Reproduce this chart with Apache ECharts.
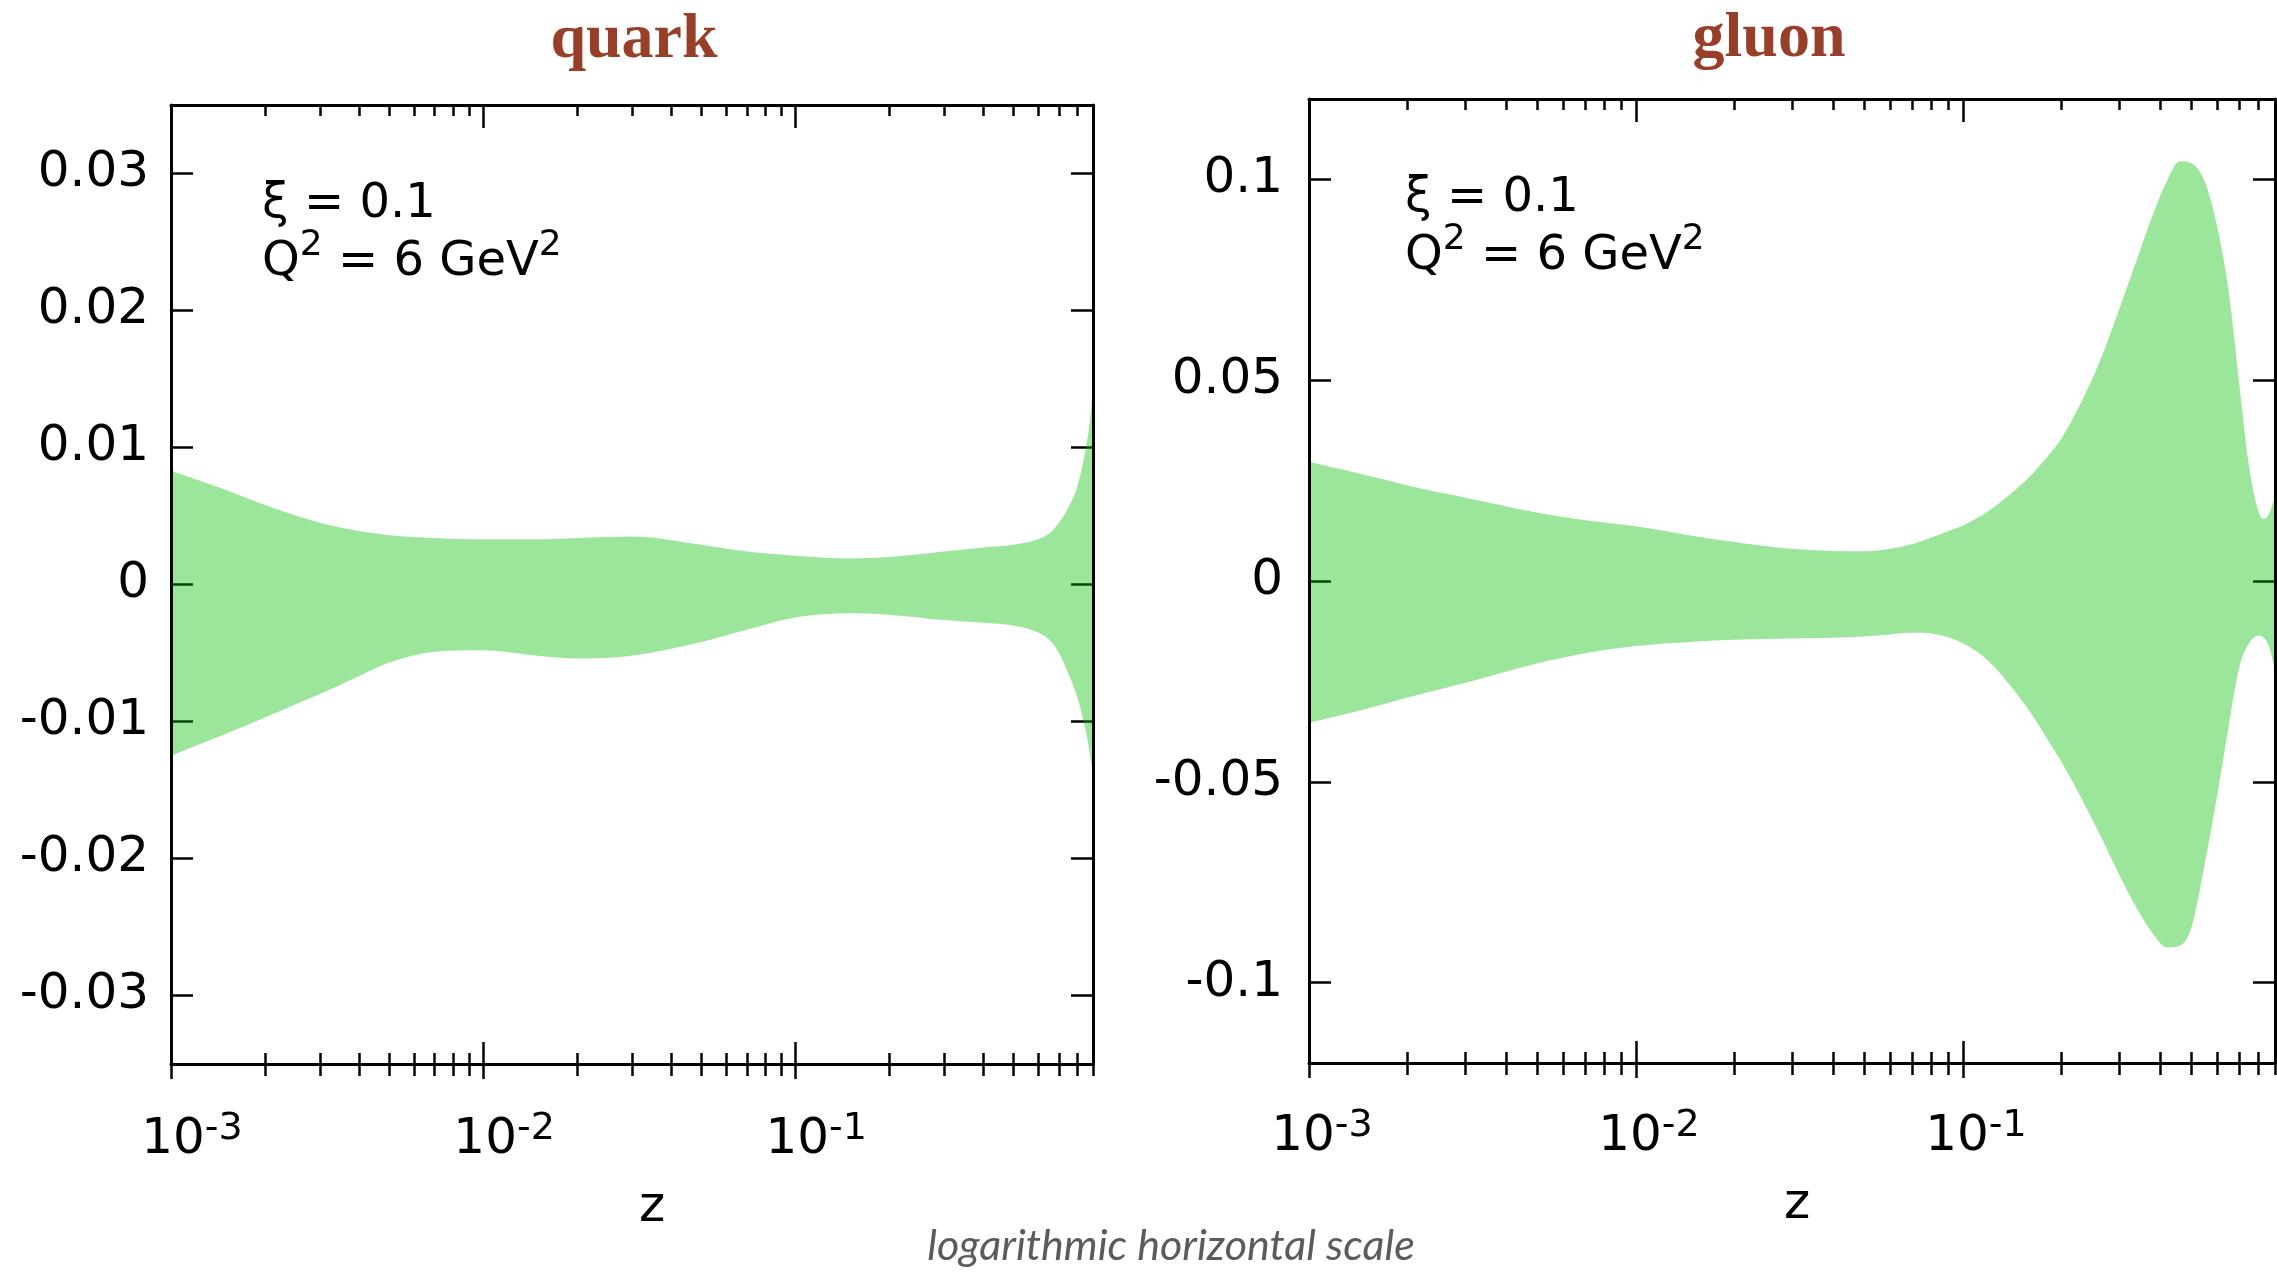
<!DOCTYPE html>
<html>
<head>
<meta charset="utf-8">
<script src="https://cdn.jsdelivr.net/npm/echarts@6/dist/echarts.min.js"></script>
<style>
  html, body { margin: 0; padding: 0; background: #fff; }
  #chart { width: 2277px; height: 1273px; }
</style>
</head>
<body>
<div id="chart"></div>
<script>
// Uncertainty bands of the quark and gluon distributions vs z (xi = 0.1, Q^2 = 6 GeV^2)
const quarkZ = [0.001, 0.0015, 0.002, 0.003, 0.004, 0.005, 0.007, 0.01, 0.015, 0.02, 0.03, 0.05, 0.07, 0.1,
  0.15, 0.2, 0.3, 0.4, 0.5, 0.6, 0.65, 0.7, 0.75, 0.8, 0.85, 0.88, 0.9];
const quarkUpper = [0.0083, 0.0069, 0.0058, 0.0045, 0.0039, 0.0036, 0.0034, 0.0033, 0.0033, 0.0034, 0.0035, 0.0029, 0.0024, 0.0021,
  0.0019, 0.0020, 0.0024, 0.0027, 0.0029, 0.0033, 0.0037, 0.0045, 0.0056, 0.0071, 0.0097, 0.0120, 0.0145];
const quarkLower = [-0.0125, -0.0109, -0.0097, -0.0080, -0.0067, -0.0057, -0.0049, -0.0048, -0.0052, -0.0054, -0.0052, -0.0042, -0.0033, -0.0024,
  -0.0021, -0.0022, -0.0026, -0.0028, -0.0030, -0.0035, -0.0040, -0.0050, -0.0065, -0.0082, -0.0105, -0.0124, -0.0138];

const gluonZ = [0.001, 0.0015, 0.002, 0.003, 0.005, 0.007, 0.01, 0.015, 0.02, 0.03, 0.04, 0.05, 0.06, 0.07, 0.08, 0.09, 0.1,
  0.12, 0.14, 0.16, 0.18, 0.2, 0.23, 0.26, 0.3, 0.34, 0.38, 0.42, 0.46, 0.5, 0.55, 0.6, 0.65, 0.7, 0.75, 0.8, 0.83, 0.86, 0.9];
const gluonUpper = [0.0297, 0.0263, 0.0238, 0.0208, 0.0170, 0.0151, 0.0136, 0.0112, 0.0097, 0.0080, 0.0075, 0.0074, 0.0080, 0.0092, 0.0108, 0.0124, 0.0138,
  0.0175, 0.0217, 0.0260, 0.0307, 0.0355, 0.0445, 0.0540, 0.0675, 0.0800, 0.0910, 0.0995, 0.1045, 0.1040, 0.0992, 0.0880, 0.0720, 0.0490, 0.0285, 0.0175, 0.0155, 0.0165, 0.0210];
const gluonLower = [-0.0353, -0.0318, -0.0290, -0.0254, -0.0205, -0.0180, -0.0162, -0.0151, -0.0146, -0.0143, -0.0141, -0.0138, -0.0133, -0.0129, -0.0131, -0.0140, -0.0155,
  -0.0200, -0.0262, -0.0325, -0.0390, -0.0450, -0.0540, -0.0625, -0.0730, -0.0815, -0.0877, -0.0912, -0.0908, -0.0862, -0.0700, -0.0530, -0.0360, -0.0215, -0.0155, -0.0136, -0.0140, -0.0160, -0.0220];

// Axis ranges and tick positions
const xRange = [0.001, 0.9];
const xMajorTicks = [0.001, 0.01, 0.1];
const xMinorTicks = [0.002, 0.003, 0.004, 0.005, 0.006, 0.007, 0.008, 0.009,
  0.02, 0.03, 0.04, 0.05, 0.06, 0.07, 0.08, 0.09,
  0.2, 0.3, 0.4, 0.5, 0.6, 0.7, 0.8, 0.9];
const quarkYRange = [-0.035, 0.035];
const quarkYTicks = [-0.03, -0.02, -0.01, 0, 0.01, 0.02, 0.03];
const gluonYRange = [-0.12, 0.12];
const gluonYTicks = [-0.1, -0.05, 0, 0.05, 0.1];

const panelTitles = ['quark', 'gluon'];
const annotationLines = ['{b|ξ = 0.1}', '{b|Q}{s|2}{b| = 6 GeV}{s|2}'];
const xAxisName = 'z';
const caption = 'logarithmic horizontal scale';

const BAND_FILL = 'rgba(0, 190, 0, 0.39)';
const FONT = 'DejaVu Sans';

const panels = [
  { grid: { left: 171, top: 105, width: 922, height: 959 }, z: quarkZ, up: quarkUpper, lo: quarkLower,
    yRange: quarkYRange, yTicks: quarkYTicks, yLabelMargin: 22, xLabelMargin: 46, xLabelShift: 42 },
  { grid: { left: 1309, top: 99, width: 966, height: 964 }, z: gluonZ, up: gluonUpper, lo: gluonLower,
    yRange: gluonYRange, yTicks: gluonYTicks, yLabelMargin: 26, xLabelMargin: 44, xLabelShift: 26 }
];

const tickStyle = { color: '#000', width: 2.5 };
const lineStyle = { color: '#000', width: 3 };

function ticks(values, length, inside) {
  return { show: true, customValues: values, length: length, inside: inside, lineStyle: tickStyle };
}

function yLabel(v) {
  return Math.abs(v) < 1e-12 ? '0' : String(parseFloat(v.toFixed(3)));
}

function xLabel(v) {
  return '{b|10}{s|' + Math.round(Math.log10(v)) + '}';
}

// Monotone cubic (Fritsch-Carlson) tangents for pixel points ordered by x
function tangents(pts) {
  const n = pts.length, d = [], m = [];
  for (let i = 0; i < n - 1; i++) d.push((pts[i + 1][1] - pts[i][1]) / (pts[i + 1][0] - pts[i][0]));
  m[0] = d[0]; m[n - 1] = d[n - 2];
  for (let i = 1; i < n - 1; i++) m[i] = (d[i - 1] * d[i] <= 0) ? 0 : (d[i - 1] + d[i]) / 2;
  for (let i = 0; i < n - 1; i++) {
    if (d[i] === 0) { m[i] = 0; m[i + 1] = 0; continue; }
    const a = m[i] / d[i], b = m[i + 1] / d[i], s = a * a + b * b;
    if (s > 9) { const t = 3 / Math.sqrt(s); m[i] = t * a * d[i]; m[i + 1] = t * b * d[i]; }
  }
  return m;
}

function curveSegments(pts, forward) {
  const m = tangents(pts);
  let out = '';
  if (forward) {
    for (let i = 0; i < pts.length - 1; i++) {
      const h = (pts[i + 1][0] - pts[i][0]) / 3;
      out += ' C' + (pts[i][0] + h) + ',' + (pts[i][1] + m[i] * h) + ' ' +
        (pts[i + 1][0] - h) + ',' + (pts[i + 1][1] - m[i + 1] * h) + ' ' + pts[i + 1][0] + ',' + pts[i + 1][1];
    }
  } else {
    for (let i = pts.length - 1; i > 0; i--) {
      const h = (pts[i][0] - pts[i - 1][0]) / 3;
      out += ' C' + (pts[i][0] - h) + ',' + (pts[i][1] - m[i] * h) + ' ' +
        (pts[i - 1][0] + h) + ',' + (pts[i - 1][1] + m[i - 1] * h) + ' ' + pts[i - 1][0] + ',' + pts[i - 1][1];
    }
  }
  return out;
}

// Closed band outline: upper edge left to right, lower edge back right to left
function bandRenderer(p) {
  return function (params, api) {
    if (params.dataIndex !== 0) return null;
    const up = p.z.map(function (z, i) { return api.coord([z, p.up[i]]); });
    const lo = p.z.map(function (z, i) { return api.coord([z, p.lo[i]]); });
    const last = lo[lo.length - 1];
    const d = 'M' + up[0][0] + ',' + up[0][1] + curveSegments(up, true) +
      ' L' + last[0] + ',' + last[1] + curveSegments(lo, false) + ' Z';
    return {
      type: 'path',
      shape: { pathData: d },
      style: { fill: BAND_FILL, stroke: null },
      silent: true
    };
  };
}

const grids = [], xAxes = [], yAxes = [], series = [];

panels.forEach(function (p, gi) {
  grids.push(Object.assign({ show: false, containLabel: false, outerBoundsMode: 'none' }, p.grid));

  const xBase = {
    type: 'log', logBase: 10, gridIndex: gi, min: xRange[0], max: xRange[1],
    splitLine: { show: false }, minorTick: { show: false }, minorSplitLine: { show: false },
    axisLabel: { show: false }, axisLine: { show: false, onZero: false }, axisTick: { show: false },
    axisPointer: { show: false }, silent: true
  };
  const xi0 = xAxes.length;
  // bottom: line, inward major ticks and labels
  xAxes.push(Object.assign({}, xBase, {
    position: 'bottom', z: 3,
    axisLine: { show: true, onZero: false, lineStyle: lineStyle },
    axisTick: ticks(xMajorTicks, 22, true),
    axisLabel: {
      show: true, customValues: xMajorTicks, margin: p.xLabelMargin, padding: [0, 0, 0, p.xLabelShift],
      formatter: xLabel,
      rich: {
        b: { fontFamily: FONT, fontSize: 50, color: '#000', lineHeight: 60 },
        s: { fontFamily: FONT, fontSize: 38, color: '#000', padding: [0, 0, 22, 0] }
      }
    }
  }));
  xAxes.push(Object.assign({}, xBase, { position: 'bottom', axisTick: ticks(xMinorTicks, 11, true) }));
  xAxes.push(Object.assign({}, xBase, { position: 'bottom', axisTick: ticks(xMajorTicks, 15, false) }));
  xAxes.push(Object.assign({}, xBase, { position: 'bottom', axisTick: ticks(xMinorTicks, 12, false) }));
  // top: line and inward ticks
  xAxes.push(Object.assign({}, xBase, {
    position: 'top', z: 3,
    axisLine: { show: true, onZero: false, lineStyle: lineStyle },
    axisTick: ticks(xMajorTicks, 23, true)
  }));
  xAxes.push(Object.assign({}, xBase, { position: 'top', axisTick: ticks(xMinorTicks, 11, true) }));

  const yBase = {
    type: 'value', gridIndex: gi, min: p.yRange[0], max: p.yRange[1],
    splitLine: { show: false }, axisLabel: { show: false }, axisTick: { show: false },
    axisLine: { show: false, onZero: false }, axisPointer: { show: false }, silent: true
  };
  const yi0 = yAxes.length;
  // left: labels and ticks beneath the band, border line above it
  yAxes.push(Object.assign({}, yBase, {
    position: 'left', z: 1,
    axisTick: ticks(p.yTicks, 22, true),
    axisLabel: { show: true, customValues: p.yTicks, margin: p.yLabelMargin, formatter: yLabel,
      fontFamily: FONT, fontSize: 50, color: '#000' }
  }));
  yAxes.push(Object.assign({}, yBase, { position: 'left', z: 3,
    axisLine: { show: true, onZero: false, lineStyle: lineStyle } }));
  yAxes.push(Object.assign({}, yBase, { position: 'right', z: 1, axisTick: ticks(p.yTicks, 22, true) }));
  yAxes.push(Object.assign({}, yBase, { position: 'right', z: 3,
    axisLine: { show: true, onZero: false, lineStyle: lineStyle } }));

  series.push({
    type: 'custom', name: panelTitles[gi], xAxisIndex: xi0, yAxisIndex: yi0,
    coordinateSystem: 'cartesian2d', clip: true, z: 2, silent: true,
    data: p.z.map(function (z, i) { return [z, p.up[i], p.lo[i]]; }),
    encode: { x: 0, y: [1, 2] },
    renderItem: bandRenderer(p)
  });
});

function text(x, y, str, font, fill, align) {
  return {
    type: 'text', x: x, y: y, silent: true, z: 10,
    style: { text: str, font: font, fill: fill, align: align || 'left', textAlign: align || 'left',
      verticalAlign: 'middle', textVerticalAlign: 'middle' }
  };
}

function richText(x, y, str) {
  return {
    type: 'text', x: x, y: y, silent: true, z: 10,
    style: {
      text: str, align: 'left', textAlign: 'left', verticalAlign: 'middle', textVerticalAlign: 'middle',
      fill: '#000', font: '48px "' + FONT + '"',
      rich: {
        b: { fontFamily: FONT, fontSize: 48, fill: '#000', color: '#000' },
        s: { fontFamily: FONT, fontSize: 36, fill: '#000', color: '#000', padding: [0, 0, 34, 0] }
      }
    }
  };
}

const titleFont = 'bold 64px "Liberation Serif"';
const graphics = [
  text(634, 40, panelTitles[0], titleFont, '#983f2a', 'center'),
  text(1769, 39, panelTitles[1], titleFont, '#983f2a', 'center'),
  richText(262, 205, annotationLines[0]),
  richText(262, 263, annotationLines[1]),
  richText(1405, 199, annotationLines[0]),
  richText(1405, 257, annotationLines[1]),
  text(652, 1208, xAxisName, '50px "' + FONT + '"', '#000', 'center'),
  text(1797, 1205, xAxisName, '50px "' + FONT + '"', '#000', 'center'),
  text(1171, 1246, caption, 'italic 43px Lato', '#5b5b5b', 'center')
];

const chart = echarts.init(document.getElementById('chart'), null, { renderer: 'canvas' });
chart.setOption({
  animation: false,
  backgroundColor: '#fff',
  grid: grids,
  xAxis: xAxes,
  yAxis: yAxes,
  series: series,
  graphic: graphics
});
</script>
</body>
</html>
